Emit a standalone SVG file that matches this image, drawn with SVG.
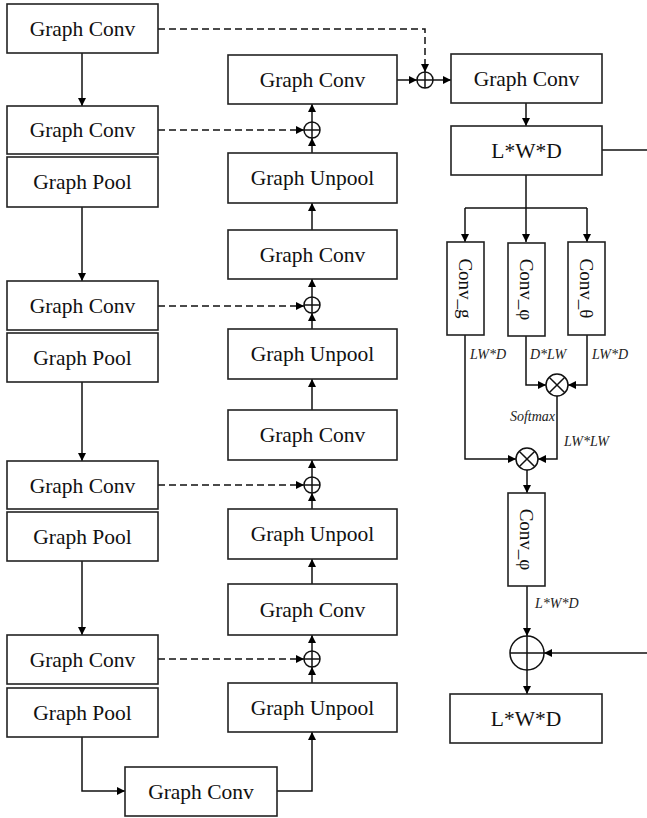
<svg xmlns="http://www.w3.org/2000/svg" width="647" height="818" viewBox="0 0 647 818">
<defs>
<marker id="ah" viewBox="0 0 10 10" refX="10" refY="5" markerWidth="9" markerHeight="8" markerUnits="userSpaceOnUse" orient="auto">
<path d="M0,0 L10,5 L0,10 Z" fill="#000"/>
</marker>
</defs>
<style>
rect.b{fill:#fff;stroke:#222;stroke-width:1.6}
.t{font-family:"Liberation Serif","Times New Roman",serif;font-size:21.5px;fill:#111;text-anchor:middle;dominant-baseline:central}
.v{font-family:"Liberation Serif","Times New Roman",serif;font-size:19px;fill:#111;text-anchor:middle;dominant-baseline:central}
.i{font-family:"Liberation Serif","Times New Roman",serif;font-size:14px;font-style:italic;fill:#222}
.c{fill:none;stroke:#111;stroke-width:1.5}
.d{fill:none;stroke:#111;stroke-width:1.5;stroke-dasharray:7,4}
.o{fill:#fff;stroke:#111;stroke-width:1.5}
</style>
<rect width="647" height="818" fill="#fff"/>

<g id="connectors">
<path class="c" d="M82,53 V106" marker-end="url(#ah)"/>
<path class="c" d="M82,207 V281" marker-end="url(#ah)"/>
<path class="c" d="M82,382 V461" marker-end="url(#ah)"/>
<path class="c" d="M82,561 V635" marker-end="url(#ah)"/>
<path class="c" d="M82,737 V791 H125" marker-end="url(#ah)"/>
<path class="c" d="M277,791 H312 V732" marker-end="url(#ah)"/>
<path class="c" d="M312,683 V667" marker-end="url(#ah)"/>
<path class="c" d="M312,651 V635" marker-end="url(#ah)"/>
<path class="c" d="M312,584 V559" marker-end="url(#ah)"/>
<path class="c" d="M312,509 V493" marker-end="url(#ah)"/>
<path class="c" d="M312,477 V460" marker-end="url(#ah)"/>
<path class="c" d="M312,410 V379" marker-end="url(#ah)"/>
<path class="c" d="M312,329 V313" marker-end="url(#ah)"/>
<path class="c" d="M312,297 V279" marker-end="url(#ah)"/>
<path class="c" d="M312,230 V203" marker-end="url(#ah)"/>
<path class="c" d="M312,153 V138" marker-end="url(#ah)"/>
<path class="c" d="M312,122 V104" marker-end="url(#ah)"/>
<path class="d" d="M158,29 H425 V72" marker-end="url(#ah)"/>
<path class="d" d="M158,130 H304" marker-end="url(#ah)"/>
<path class="d" d="M158,306 H304" marker-end="url(#ah)"/>
<path class="d" d="M158,485 H304" marker-end="url(#ah)"/>
<path class="d" d="M158,659 H304" marker-end="url(#ah)"/>
<path class="c" d="M397,80 H417" marker-end="url(#ah)"/>
<path class="c" d="M433,80 H451" marker-end="url(#ah)"/>
<path class="c" d="M526,103 V126" marker-end="url(#ah)"/>
<path class="c" d="M602,150 H647"/>
<path class="c" d="M526,175 V242" marker-end="url(#ah)"/>
<path class="c" d="M465,208 H587"/>
<path class="c" d="M465,208 V242" marker-end="url(#ah)"/>
<path class="c" d="M587,208 V242" marker-end="url(#ah)"/>
<path class="c" d="M526,336 V385 H546" marker-end="url(#ah)"/>
<path class="c" d="M587,335 V385 H568" marker-end="url(#ah)"/>
<path class="c" d="M557,396 V459 H538" marker-end="url(#ah)"/>
<path class="c" d="M465,335 V459 H516" marker-end="url(#ah)"/>
<path class="c" d="M527,470 V493" marker-end="url(#ah)"/>
<path class="c" d="M527,586 V636" marker-end="url(#ah)"/>
<path class="c" d="M647,653 H544" marker-end="url(#ah)"/>
<path class="c" d="M527,670 V694" marker-end="url(#ah)"/>
</g>

<g id="lc1"><rect class="b" x="7" y="4" width="151" height="49"/><text class="t" x="82.5" y="29">Graph Conv</text></g>
<g id="lc2"><rect class="b" x="7" y="106" width="151" height="48"/><text class="t" x="82.5" y="130">Graph Conv</text></g>
<g id="lp2"><rect class="b" x="7" y="157" width="151" height="50"/><text class="t" x="82.5" y="182">Graph Pool</text></g>
<g id="lc3"><rect class="b" x="7" y="281" width="151" height="49"/><text class="t" x="82.5" y="306">Graph Conv</text></g>
<g id="lp3"><rect class="b" x="7" y="333" width="151" height="49"/><text class="t" x="82.5" y="358">Graph Pool</text></g>
<g id="lc4"><rect class="b" x="7" y="461" width="151" height="48"/><text class="t" x="82.5" y="486">Graph Conv</text></g>
<g id="lp4"><rect class="b" x="7" y="512" width="151" height="49"/><text class="t" x="82.5" y="537">Graph Pool</text></g>
<g id="lc5"><rect class="b" x="7" y="635" width="151" height="49"/><text class="t" x="82.5" y="660">Graph Conv</text></g>
<g id="lp5"><rect class="b" x="7" y="688" width="151" height="49"/><text class="t" x="82.5" y="713">Graph Pool</text></g>
<g id="bc"><rect class="b" x="125" y="767" width="152" height="49"/><text class="t" x="201" y="792">Graph Conv</text></g>

<g id="mc1"><rect class="b" x="228" y="55" width="169" height="49"/><text class="t" x="312.5" y="80">Graph Conv</text></g>
<g id="mu1"><rect class="b" x="228" y="153" width="169" height="50"/><text class="t" x="312.5" y="178">Graph Unpool</text></g>
<g id="mc2"><rect class="b" x="228" y="230" width="169" height="49"/><text class="t" x="312.5" y="255">Graph Conv</text></g>
<g id="mu2"><rect class="b" x="228" y="329" width="169" height="50"/><text class="t" x="312.5" y="354">Graph Unpool</text></g>
<g id="mc3"><rect class="b" x="228" y="410" width="169" height="50"/><text class="t" x="312.5" y="435">Graph Conv</text></g>
<g id="mu3"><rect class="b" x="228" y="509" width="169" height="50"/><text class="t" x="312.5" y="534">Graph Unpool</text></g>
<g id="mc4"><rect class="b" x="228" y="584" width="169" height="51"/><text class="t" x="312.5" y="610">Graph Conv</text></g>
<g id="mu4"><rect class="b" x="228" y="683" width="169" height="49"/><text class="t" x="312.5" y="708">Graph Unpool</text></g>

<g id="p1"><circle class="o" cx="312" cy="130" r="8"/><path class="c" d="M304,130 H320 M312,122 V138"/></g>
<g id="p2"><circle class="o" cx="312" cy="305" r="8"/><path class="c" d="M304,305 H320 M312,297 V313"/></g>
<g id="p3"><circle class="o" cx="312" cy="485" r="8"/><path class="c" d="M304,485 H320 M312,477 V493"/></g>
<g id="p4"><circle class="o" cx="312" cy="659" r="8"/><path class="c" d="M304,659 H320 M312,651 V667"/></g>
<g id="p0"><circle class="o" cx="425" cy="80" r="8"/><path class="c" d="M417,80 H433 M425,72 V88"/></g>

<g id="rc"><rect class="b" x="451" y="54" width="151" height="49"/><text class="t" x="526.5" y="79">Graph Conv</text></g>
<g id="lwd1"><rect class="b" x="451" y="126" width="151" height="49"/><text class="t" x="526.5" y="151">L*W*D</text></g>
<g id="convg"><rect class="b" x="447" y="242" width="37" height="93"/><text class="v" transform="translate(465.5,288.5) rotate(90)">Conv_g</text></g>
<g id="convphi"><rect class="b" x="508" y="243" width="37" height="93"/><text class="v" transform="translate(526.5,289.5) rotate(90)">Conv_φ</text></g>
<g id="convtheta"><rect class="b" x="568" y="242" width="37" height="93"/><text class="v" transform="translate(586.5,288.5) rotate(90)">Conv_θ</text></g>
<g id="m1"><circle class="o" cx="557" cy="385" r="11"/><path class="c" d="M549.2,377.2 L564.8,392.8 M564.8,377.2 L549.2,392.8"/></g>
<g id="m2"><circle class="o" cx="527" cy="459" r="11"/><path class="c" d="M519.2,451.2 L534.8,466.8 M534.8,451.2 L519.2,466.8"/></g>
<g id="convphi2"><rect class="b" x="508" y="493" width="37" height="93"/><text class="v" transform="translate(526.5,539.5) rotate(90)">Conv_φ</text></g>
<g id="pbig"><circle class="o" cx="527" cy="653" r="17"/><path class="c" d="M510,653 H544 M527,636 V670"/></g>
<g id="lwd2"><rect class="b" x="450" y="694" width="152" height="49"/><text class="t" x="526" y="719">L*W*D</text></g>

<g id="labels">
<text class="i" x="470" y="359">LW*D</text>
<text class="i" x="530" y="359">D*LW</text>
<text class="i" x="592" y="359">LW*D</text>
<text class="i" x="555" y="421" text-anchor="end">Softmax</text>
<text class="i" x="564" y="446">LW*LW</text>
<text class="i" x="535" y="608">L*W*D</text>
</g>
</svg>
